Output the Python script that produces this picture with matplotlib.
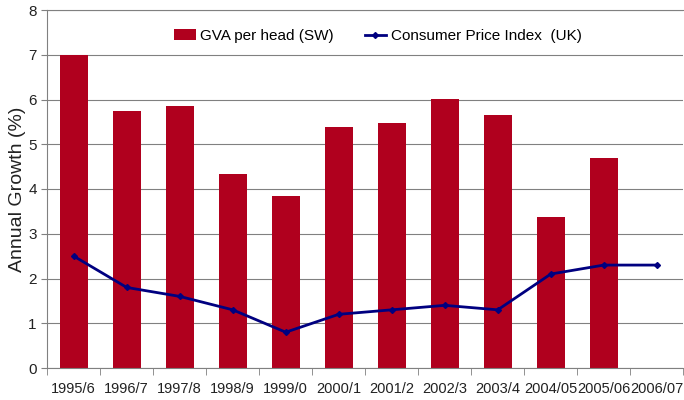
import matplotlib.pyplot as plt
import numpy as np

plt.rcParams['font.family'] = ['Liberation Sans', 'DejaVu Sans']

# Data
years = ['1995/6', '1996/7', '1997/8', '1998/9', '1999/0', '2000/1', '2001/2',
         '2002/3', '2003/4', '2004/05', '2005/06', '2006/07']
gva_sw = [7.0, 5.75, 5.85, 4.33, 3.85, 5.38, 5.48, 6.02, 5.65, 3.37, 4.7, np.nan]
cpi_uk = [2.5, 1.8, 1.6, 1.3, 0.8, 1.2, 1.3, 1.4, 1.3, 2.1, 2.3, 2.3]

x = np.arange(len(years))

fig = plt.figure(figsize=(6.84, 4.0), dpi=100)
ax = fig.add_axes([0.069, 0.08, 0.93, 0.895])

bars = ax.bar(x, gva_sw, width=0.53, color='#B0001E', label='GVA per head (SW)', zorder=2)
line, = ax.plot(x, cpi_uk, color='#000080', linewidth=2, marker='D', markersize=3,
                label='Consumer Price Index  (UK)', zorder=3)

ax.set_xlim(-0.5, len(years) - 0.5)
ax.set_ylim(0, 8)
ax.set_yticks(range(0, 9))
ax.yaxis.grid(True, color='#808080', linewidth=0.8, zorder=0)
ax.set_axisbelow(True)

ax.set_xticks(x)
ax.set_xticklabels(years)
ax.set_xticks(np.arange(-0.5, len(years)), minor=True)
ax.tick_params(axis='x', which='major', length=0, pad=10, labelsize=10.5, colors='#222222')
ax.tick_params(axis='x', which='minor', length=5, color='#808080')
ax.tick_params(axis='y', length=4, color='#808080', labelsize=11, colors='#222222')

for s in ax.spines.values():
    s.set_color('#808080')
ax.spines['right'].set_visible(False)

ax.set_ylabel('Annual Growth (%)', fontsize=14, color='#222222', labelpad=2)

ax.legend([bars, line], ['GVA per head (SW)', 'Consumer Price Index  (UK)'],
          loc='upper center', bbox_to_anchor=(0.52, 0.985), ncol=2, frameon=False,
          fontsize=11, handlelength=1.4, columnspacing=2.0, handletextpad=0.3)

plt.savefig('out.png', dpi=100)
